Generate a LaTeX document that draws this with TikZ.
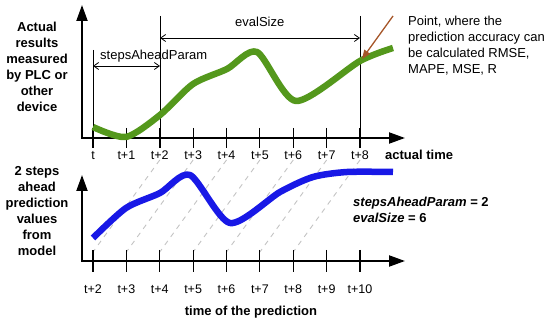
\documentclass[tikz,border=0pt]{standalone}
\usepackage{fontspec}
\setmainfont{Liberation Sans}
\usetikzlibrary{arrows.meta}
\definecolor{plcgreen}{RGB}{84,152,28}
\definecolor{predblue}{RGB}{24,24,230}
\definecolor{pointbrown}{RGB}{165,85,40}
\definecolor{guidegray}{RGB}{195,195,195}
\begin{document}
\begin{tikzpicture}[x=1pt,y=-1pt,
  axis/.style={line width=2pt,-{Triangle[length=16pt,width=11pt]}},
  tickline/.style={line width=1.1pt},
  vline/.style={line width=0.9pt},
  dimline/.style={line width=0.8pt,{Straight Barb[length=5pt,width=7pt]}-{Straight Barb[length=5pt,width=7pt]}},
  guide/.style={guidegray,line width=0.9pt,dash pattern=on 5pt off 5pt},
  curve/.style={line width=6.5pt,line join=round,smooth,tension=0.45},
  pointarrow/.style={pointbrown,line width=1.3pt,-{Triangle[length=9pt,width=7pt]}},
  ticklbl/.style={anchor=base,inner sep=0pt,font=\fontsize{12.5}{15}\selectfont},
  boldlbl/.style={inner sep=0pt,font=\fontsize{13}{16}\selectfont\bfseries},
  plainlbl/.style={inner sep=0pt,font=\fontsize{13}{16}\selectfont}
]
\useasboundingbox (0,0) rectangle (550,323);

% ---------- guide dashed lines ----------
\foreach \k in {2,...,8}{
  \coordinate (gtop\k) at (93+33.375*\k,160);
  \coordinate (gbot\k) at (93+33.375*\k-66.75,252);
  \draw[guide] (gtop\k) -- (gbot\k);
}

% ---------- top chart ----------
\coordinate (tyb) at (82,139);
\coordinate (tyt) at (82,5);
\coordinate (txl) at (81,138);
\coordinate (txr) at (405,138);
\draw[axis] (tyb) -- (tyt);
\draw[axis] (txl) -- (txr);
\foreach \k in {0,...,8}{
  \coordinate (tt\k a) at (93+33.375*\k,128);
  \coordinate (tt\k b) at (93+33.375*\k,148);
  \draw[tickline] (tt\k a) -- (tt\k b);
  \node[ticklbl] (tl\k) at (93+33.375*\k,160) {\ifnum\k=0 t\else t+\k\fi};
}
\node[ticklbl,anchor=base west,font=\fontsize{13}{16}\selectfont\bfseries] (acttime) at (385,160) {actual time};

% vertical markers
\coordinate (v0t) at (93,50);   \coordinate (v0b) at (93,148);
\coordinate (v2t) at (160,16);  \coordinate (v2b) at (160,148);
\coordinate (v8t) at (360,16);  \coordinate (v8b) at (360,148);
\draw[vline] (v0t) -- (v0b);
\draw[vline] (v2t) -- (v2b);
\draw[vline] (v8t) -- (v8b);

% dimension arrows
\coordinate (sa1) at (93,66);  \coordinate (sa2) at (160,66);
\draw[dimline] (sa1) -- (sa2);
\node[plainlbl,anchor=base west] (salbl) at (100,60) {stepsAheadParam};
\coordinate (es1) at (160,38); \coordinate (es2) at (360,38);
\draw[dimline] (es1) -- (es2);
\node[plainlbl,anchor=base west] (eslbl) at (235,27) {evalSize};

% measured curve
\draw[curve,plcgreen] plot coordinates {(93,127) (126,137) (160,115) (193,84) (227,69) (257,52) (296,101) (360,61) (393,48)};

% point arrow
\coordinate (pstart) at (393,16);
\coordinate (ppoint) at (362,59);
\draw[pointarrow] (pstart) -- (ppoint);

\node[plainlbl,anchor=north west,align=left] (pointtxt) at (408,15.7)
  {Point, where the\\prediction accuracy can\\be calculated RMSE,\\MAPE, MSE, R};

\node[boldlbl,anchor=north,align=center] (toptxt) at (37,21.7)
  {Actual\\results\\measured\\by PLC or\\other\\device};

% ---------- bottom chart ----------
\coordinate (byb) at (82,262);
\coordinate (byt) at (82,175);
\coordinate (bxl) at (81,261);
\coordinate (bxr) at (405,261);
\draw[axis] (byb) -- (byt);
\draw[axis] (bxl) -- (bxr);
\foreach \k in {2,...,10}{
  \coordinate (bt\k a) at (93+33.375*\k-66.75,250);
  \coordinate (bt\k b) at (93+33.375*\k-66.75,272);
  \draw[tickline] (bt\k a) -- (bt\k b);
  \node[ticklbl] (bl\k) at (93+33.375*\k-66.75,294) {t+\k};
}
\node[boldlbl,anchor=base] (predtime) at (251,316) {time of the prediction};

% prediction curve
\draw[curve,predblue] plot coordinates {(93,238) (126,208) (160,193) (190,175) (230,223) (280,192) (313,177) (347,172) (393,172)};

\node[boldlbl,anchor=north,align=center] (bottxt) at (37,166.7)
  {2 steps\\ahead\\prediction\\values\\from\\model};

\node[boldlbl,anchor=north west,align=left] (paramtxt) at (353,197.2)
  {\textit{stepsAheadParam} = 2\\\textit{evalSize} = 6};
\end{tikzpicture}
\end{document}
